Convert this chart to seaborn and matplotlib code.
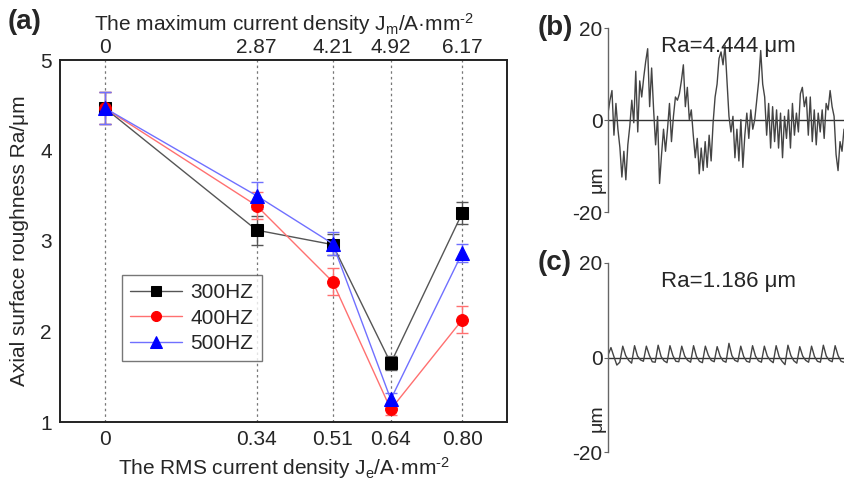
import numpy as np
import pandas as pd
import matplotlib
matplotlib.use("Agg")
import matplotlib.pyplot as plt
import seaborn as sns

# ---------------- data ----------------
rms_density = [0.0, 0.34, 0.51, 0.64, 0.80]
rms_labels = ["0", "0.34", "0.51", "0.64", "0.80"]
max_labels = ["0", "2.87", "4.21", "4.92", "6.17"]
series_names = ["300HZ", "400HZ", "500HZ"]
ra_300 = [4.47, 3.12, 2.96, 1.65, 3.31]
ra_400 = [4.47, 3.39, 2.55, 1.14, 2.13]
ra_500 = [4.47, 3.50, 2.97, 1.25, 2.87]
err_300 = [0.18, 0.16, 0.12, 0.08, 0.12]
err_400 = [0.18, 0.15, 0.15, 0.06, 0.15]
err_500 = [0.18, 0.15, 0.13, 0.07, 0.10]

profile_b = [1.5, 4.3, 6.4, -3.3, 3.6, -2.0, -6.0, -12.4, -6.8, -13.0, -5.4, -1.3, 4.3, -0.6,
             10.6, -2.6, 8.5, 5.0, 9.2, 12.7, 15.5, 2.9, 11.3, 2.2, -5.4, 0.8, -13.8, -7.5,
             -2.0, -6.8, -2.0, 3.6, -4.7, 0.8, 5.0, 4.3, 5.7, 8.5, 12.0, 2.9, 7.1, 0.1, 2.2,
             -3.3, -8.2, -4.0, -11.7, -6.1, -11.0, -4.7, -10.3, -3.3, -8.9, -0.6, 5.0, 7.8,
             13.4, 14.8, 12.0, 16.2, 8.5, 0.8, -2.6, 0.8, -8.2, -2.0, -8.9, 0.1, -10.3, -3.3,
             1.5, -4.0, 2.2, -2.0, 0.1, 4.3, 8.5, 15.1, 7.8, 5.0, -3.3, 3.6, -6.1, 2.9, -4.7,
             2.2, -6.1, 1.5, -8.2, 0.8, -4.0, 2.2, -6.1, 3.6, -3.3, 1.5, -2.6, 5.7, 7.1, 2.9,
             5.0, -3.3, 5.0, -4.7, 2.2, -5.4, 1.5, -2.6, 2.2, -4.0, 3.6, 2.2, 6.4, 2.9, 0.8,
             -7.5, -11.0, -4.7, -6.8, -2.0]

profile_c = [0.5, 2.1, 0.2, -1.6, -1.0, 2.4, 0.4, -0.6, -1.2, 2.5, 0.3, -0.5, -0.8, 2.4,
             0.5, -0.9, -1.0, 2.6, 0.2, -0.7, -1.1, 2.5, 0.4, -0.8, -0.9, 2.4, 0.3, -0.6,
             -1.0, 2.5, 0.2, -0.8, -1.1, 2.4, 0.5, -0.6, -0.9, 2.3, 0.3, -0.7, -1.0, 3.0,
             0.4, -0.6, -0.9, 2.4, 0.2, -0.8, -1.0, 2.5, 0.3, -0.7, -1.0, 2.4, 0.3, -0.6,
             -1.1, 2.5, 0.2, -0.8, -1.5, 2.6, 0.4, -0.7, -1.2, 2.3, 0.3, -0.6, -1.0, 2.4,
             0.2, -0.8, -1.0, 2.6, 0.3, -0.6, -0.9, 2.5, 0.4, -0.8, -1.0]

# ---------------- style ----------------
sns.set_style("ticks")
plt.rcParams["font.family"] = ["Liberation Sans", "DejaVu Sans"]
plt.rcParams["mathtext.fontset"] = "custom"
plt.rcParams["mathtext.rm"] = "Liberation Sans"
plt.rcParams["mathtext.it"] = "Liberation Sans:italic"
plt.rcParams["axes.unicode_minus"] = False

fig = plt.figure(figsize=(8.46, 4.84), dpi=100)

# ---------------- main panel (a) ----------------
ax = fig.add_axes([60 / 846, 1 - 422 / 484, 447 / 846, 362 / 484])

df = pd.DataFrame({
    "x": rms_density * 3,
    "y": ra_300 + ra_400 + ra_500,
    "err": err_300 + err_400 + err_500,
    "series": sum([[n] * len(rms_density) for n in series_names], []),
})
line_colors = {"300HZ": "#555555", "400HZ": "#ff7070", "500HZ": "#7070ff"}
mark_colors = {"300HZ": "black", "400HZ": "red", "500HZ": "blue"}
markers = {"300HZ": "s", "400HZ": "o", "500HZ": "^"}
msizes = {"300HZ": 8, "400HZ": 8.5, "500HZ": 9.5}

for xv in rms_density:
    ax.axvline(xv, color="#777777", ls=(0, (2, 2.5)), lw=0.9, zorder=0)

for name in series_names:
    sub = df[df["series"] == name]
    ax.errorbar(sub["x"], sub["y"], yerr=sub["err"], fmt="none",
                ecolor=line_colors[name], elinewidth=1.0, capsize=4, capthick=1.0, zorder=2)
    sns.lineplot(data=sub, x="x", y="y", ax=ax, color=line_colors[name], lw=1.0,
                 marker=markers[name], markersize=msizes[name],
                 markerfacecolor=mark_colors[name], markeredgecolor=mark_colors[name],
                 label=name, zorder=3, sort=False)

ax.set_xlim(-0.1, 0.9)
ax.set_ylim(1, 5)
ax.set_xticks(rms_density)
ax.set_xticklabels(rms_labels)
ax.set_yticks([1, 2, 3, 4, 5])
ax.tick_params(axis="both", labelsize=15, direction="in", length=0, pad=6)
ax.set_xlabel("The RMS current density J$_\\mathrm{e}$/A·mm$^{\\text{-2}}$", fontsize=15, labelpad=4)
ax.set_ylabel("Axial surface roughness Ra/μm", fontsize=15, labelpad=8)
for s in ax.spines.values():
    s.set_linewidth(1.2)
    s.set_color("#222222")

leg = ax.legend(loc="lower left", bbox_to_anchor=(0.138, 0.168), borderaxespad=0,
                fontsize=15, frameon=True, fancybox=False, edgecolor="#555555",
                handlelength=2.5, borderpad=0.4, labelspacing=0.3, handletextpad=0.4,
                markerscale=0.85)
leg.get_frame().set_linewidth(1.0)

ax2 = ax.twiny()
ax2.set_xlim(ax.get_xlim())
ax2.set_xticks(rms_density)
ax2.set_xticklabels(max_labels)
ax2.tick_params(axis="x", labelsize=15, length=0, pad=2)
ax2.set_xlabel("The maximum current density J$_\\mathrm{m}$/A·mm$^{\\text{-2}}$", fontsize=15, labelpad=5)
for s in ax2.spines.values():
    s.set_linewidth(1.2)
    s.set_color("#222222")

fig.text(8 / 846, 1 - 22 / 484, "(a)", fontsize=20, fontweight="bold", va="center", ha="left")

# ---------------- profile panels (b), (c) ----------------
def profile_panel(rect, values, ra_text, tag):
    pax = fig.add_axes(rect)
    pdf = pd.DataFrame({"pos": np.arange(len(values)), "h": values})
    pax.axhline(0, color="#333333", lw=1.0, zorder=1)
    sns.lineplot(data=pdf, x="pos", y="h", ax=pax, color="#444444", lw=1.0, zorder=2)
    pax.set_xlim(0, len(values) - 1)
    pax.set_ylim(-20, 20)
    pax.set_yticks([-20, 0, 20])
    pax.set_xticks([])
    pax.set_xlabel("")
    pax.set_ylabel("")
    for k in ["top", "right", "bottom"]:
        pax.spines[k].set_visible(False)
    pax.spines["left"].set_color("#666666")
    pax.spines["left"].set_linewidth(1.0)
    pax.tick_params(axis="y", labelsize=15, length=3, width=0.8, color="#666666", pad=1)
    pax.text(0.51, 0.90, ra_text, transform=pax.transAxes, fontsize=16, ha="center", va="center")
    pax.text(-0.01, 0.18, "μm", transform=pax.transAxes, fontsize=14, rotation=90,
             ha="right", va="center")
    fig.text(rect[0] - 70 / 846, rect[1] + rect[3] - 0.0, tag, fontsize=20,
             fontweight="bold", va="center", ha="left")
    return pax

profile_panel([608 / 846, 1 - 212 / 484, 236 / 846, 184 / 484], profile_b, "Ra=4.444 μm", "(b)")
profile_panel([608 / 846, 1 - 452 / 484, 236 / 846, 189 / 484], profile_c, "Ra=1.186 μm", "(c)")

fig.savefig("out.png", dpi=100)
